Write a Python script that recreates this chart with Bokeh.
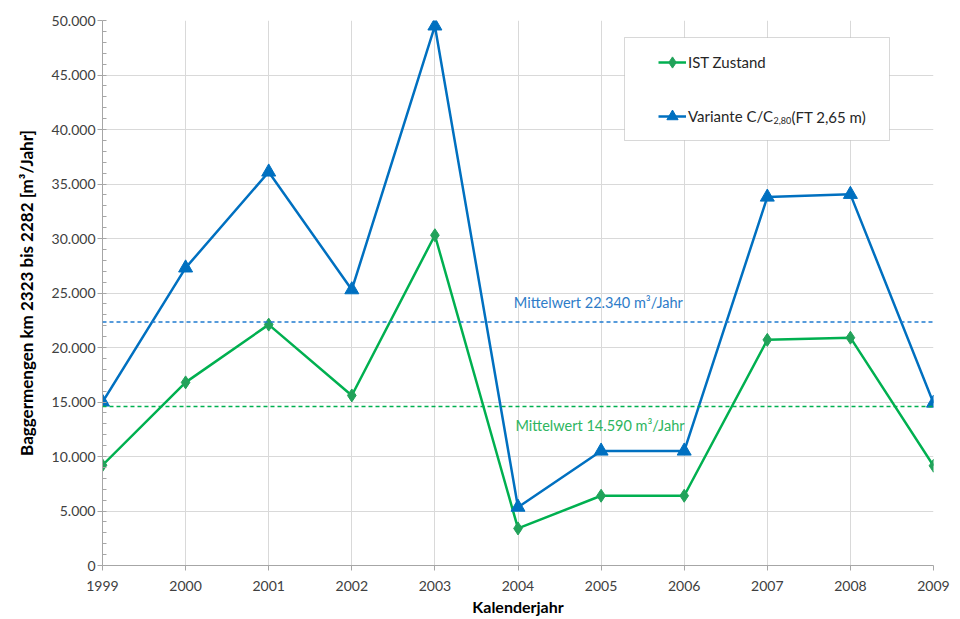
from bokeh.plotting import figure
from bokeh.models import (SingleIntervalTicker, CustomJSTickFormatter, Span, Label,
                          BoxAnnotation, Range1d, Legend, LegendItem)
from bokeh.embed import file_html
from bokeh.resources import INLINE

# ---- data ----
years = [1999, 2000, 2001, 2002, 2003, 2004, 2005, 2006, 2007, 2008, 2009]
ist_zustand = [9200, 16800, 22100, 15600, 30300, 3400, 6400, 6400, 20700, 20900, 9150]
variante = [15000, 27300, 36100, 25300, 49500, 5350, 10500, 10500, 33800, 34050, 14900]
mittel_ist = 14590
mittel_variante = 22340
label_ist = "IST Zustand"
label_var_main = "Variante C/C"
label_var_sub = "2,80"
label_var_tail = "(FT 2,65 m)"
text_mittel_var = "Mittelwert 22.340 m³/Jahr"
text_mittel_ist = "Mittelwert 14.590 m³/Jahr"
y_title = "Baggermengen km 2323 bis 2282 [m³/Jahr]"
x_title = "Kalenderjahr"

BLUE = "#0070C0"
GREEN = "#00B050"
GREEN_MK = "#22A25A"
FONT = "Lato"

p = figure(width=960, height=619, output_backend="svg", toolbar_location=None,
           x_range=Range1d(1999, 2009), y_range=Range1d(0, 50000),
           min_border_left=102, min_border_right=27, min_border_top=20, min_border_bottom=54)
p.outline_line_color = None
p.background_fill_color = "white"

# axes
p.xaxis.ticker = SingleIntervalTicker(interval=1, num_minor_ticks=0)
p.yaxis.ticker = SingleIntervalTicker(interval=5000, num_minor_ticks=5)
p.yaxis.formatter = CustomJSTickFormatter(code="""
    return Math.round(tick).toString().replace(/\\B(?=(\\d{3})+(?!\\d))/g, '.');
""")
for ax in (p.xaxis, p.yaxis):
    ax.axis_line_color = "#A6A6A6"
    ax.major_tick_line_color = "#A6A6A6"
    ax.minor_tick_line_color = "#A6A6A6"
    ax.major_tick_in = 0
    ax.major_tick_out = 5
    ax.major_label_text_font = FONT
    ax.major_label_text_font_size = "14px"
    ax.major_label_text_color = "#404040"
    ax.axis_label_text_font = FONT
    ax.axis_label_text_font_size = "17px"
    ax.axis_label_text_font_style = "bold"
    ax.axis_label_text_color = "#000000"
p.xaxis.axis_label_text_font_size = "16px"
p.yaxis.minor_tick_in = 4
p.yaxis.minor_tick_out = 0
p.yaxis.major_label_standoff = 2
p.xaxis.major_label_standoff = 10
p.yaxis.axis_label = y_title
p.xaxis.axis_label = x_title
p.yaxis.axis_label_standoff = 12
p.xaxis.axis_label_standoff = 3

p.xgrid.grid_line_color = "#D9D9D9"
p.ygrid.grid_line_color = "#D9D9D9"
p.xgrid.grid_line_width = 1
p.ygrid.grid_line_width = 1

# mean lines
p.add_layout(Span(location=mittel_variante, dimension="width", line_color="#1F7BD0",
                  line_dash="4 3", line_width=1.5))
p.add_layout(Span(location=mittel_ist, dimension="width", line_color=GREEN,
                  line_dash="4 3", line_width=1.5))

# series
l_ist = p.line(years, ist_zustand, line_color=GREEN, line_width=2.5)
m_ist = p.scatter(years, ist_zustand, marker="diamond", size=13,
                  fill_color=GREEN_MK, line_color=GREEN_MK)
l_var = p.line(years, variante, line_color=BLUE, line_width=2.5)
m_var = p.scatter(years, variante, marker="triangle", size=14,
                  fill_color=BLUE, line_color=BLUE)

# mean labels
p.add_layout(Label(x=2003.95, y=mittel_variante, y_offset=19, text=text_mittel_var,
                   text_font=FONT, text_font_size="14.5px", text_color="#2E7CC8",
                   text_baseline="middle"))
p.add_layout(Label(x=2003.97, y=mittel_ist, y_offset=-19, text=text_mittel_ist,
                   text_font=FONT, text_font_size="14.5px", text_color="#2DB560",
                   text_baseline="middle"))

# legend frame
p.add_layout(BoxAnnotation(left=522, right=787, top=528, bottom=425,
                           left_units="screen", right_units="screen",
                           top_units="screen", bottom_units="screen",
                           fill_color="white", fill_alpha=1.0,
                           line_color="#7F7F7F", line_width=1, level="overlay"))

legend = Legend(items=[LegendItem(label=label_ist, renderers=[l_ist, m_ist]),
                       LegendItem(label=label_var_main, renderers=[l_var, m_var])],
                location=(556, 435), padding=0, spacing=26, glyph_width=28,
                glyph_height=28, label_height=20, label_standoff=2,
                label_text_font=FONT, label_text_font_size="15px",
                label_text_color="#262626", background_fill_alpha=0,
                border_line_color=None)
p.add_layout(legend, "center")

p.add_layout(Label(x=671, y=445, x_units="screen", y_units="screen", text=label_var_sub,
                   text_font=FONT, text_font_size="9px", text_color="#262626",
                   text_baseline="middle", level="overlay"))
p.add_layout(Label(x=689, y=449, x_units="screen", y_units="screen", text=label_var_tail,
                   text_font=FONT, text_font_size="15px", text_color="#262626",
                   text_baseline="middle", level="overlay"))

open("out.html", "w").write(file_html(p, INLINE))
